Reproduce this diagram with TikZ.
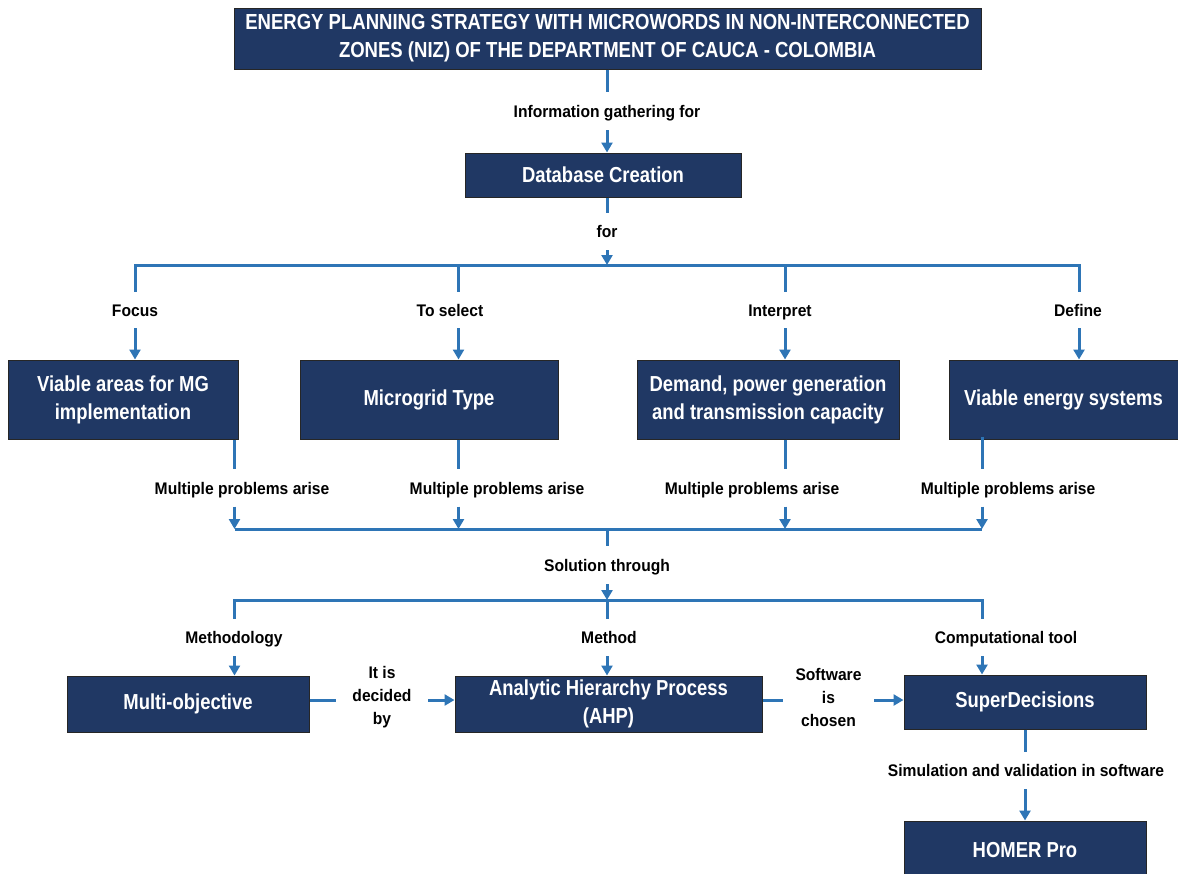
\documentclass[tikz,border=0pt]{standalone}
\usepackage{fontspec}
\setmainfont{Liberation Sans}
\newfontfamily\boxfont{Liberation Sans}[FakeStretch=0.85]
\newfontfamily\labfont{Liberation Sans}[FakeStretch=0.93]
\usetikzlibrary{arrows.meta}
\definecolor{navy}{HTML}{203864}
\definecolor{arrowblue}{HTML}{2E75B6}
\tikzset{
  box/.style={draw=black!85, line width=1pt, fill=navy, text=white,
    font=\boxfont\bfseries\fontsize{21.7}{28}\selectfont, align=center, inner sep=0pt},
  titlebox/.style={box, font=\boxfont\bfseries\fontsize{21.8}{28}\selectfont},
  lab/.style={font=\labfont\bfseries\fontsize{16.8}{23}\selectfont, align=center, inner sep=0pt, text=black},
  lab1/.style={lab, text height=14pt, text depth=2pt},
  conn/.style={draw=arrowblue, line width=3pt},
  arr/.style={conn, -{Triangle[width=11pt,length=10pt]}},
}
\begin{document}
\begin{tikzpicture}[x=1pt,y=-1pt]
\useasboundingbox (0,0) rectangle (1178,873);
% boxes
\node[titlebox, minimum width=747pt, minimum height=61pt] (title) at (607.5,38.5)
  {ENERGY PLANNING STRATEGY WITH MICROWORDS IN NON-INTERCONNECTED\\ZONES (NIZ) OF THE DEPARTMENT OF CAUCA - COLOMBIA};
\node[box, minimum width=276pt, minimum height=44pt] (db) at (603,175) {Database Creation};
\node[box, minimum width=230pt, minimum height=79pt] (va) at (123,399.5) {Viable areas for MG\\implementation};
\node[box, minimum width=258pt, minimum height=79pt] (mt) at (429,399.5) {Microgrid Type};
\node[box, minimum width=262pt, minimum height=79pt] (dem) at (768,399.5) {Demand, power generation\\and transmission capacity};
\node[box, minimum width=229pt, minimum height=79pt] (ves) at (1063.5,399.5) {Viable energy systems};
\node[box, minimum width=242pt, minimum height=56pt] (mo) at (188,704) {Multi-objective};
\node[box, minimum width=307pt, minimum height=56pt] (ahp) at (608.5,704) {Analytic Hierarchy Process\\(AHP)};
\node[box, minimum width=242pt, minimum height=54pt] (sd) at (1025,702) {SuperDecisions};
\node[box, minimum width=242pt, minimum height=58pt] (hp) at (1025,850) {HOMER Pro};
% labels
\node[lab1, minimum height=38pt] (lig) at (607,111) {Information gathering for};
\node[lab1, minimum height=37pt] (lfor) at (607,231.5) {for};
\node[lab1, minimum height=36pt] (lfoc) at (135,310) {Focus};
\node[lab1, minimum height=36pt] (lsel) at (450,310) {To select};
\node[lab1, minimum height=36pt] (lint) at (780,310) {Interpret};
\node[lab1, minimum height=36pt] (ldef) at (1078,310) {Define};
\node[lab1, minimum height=37pt] (mp1) at (242,488) {Multiple problems arise};
\node[lab1, minimum height=37pt] (mp2) at (497,488) {Multiple problems arise};
\node[lab1, minimum height=37pt] (mp3) at (752,488) {Multiple problems arise};
\node[lab1, minimum height=37pt] (mp4) at (1008,488) {Multiple problems arise};
\node[lab1, minimum height=38pt] (lsol) at (607,565) {Solution through};
\node[lab1, minimum height=37pt] (lmy) at (234,637.5) {Methodology};
\node[lab1, minimum height=37pt] (lmd) at (609,637.5) {Method};
\node[lab1, minimum height=37pt] (lct) at (1006,637.5) {Computational tool};
\node[lab, minimum width=92pt] (ldec) at (382,697) {It is\\decided\\by};
\node[lab, minimum width=91pt] (lsw) at (828.5,697) {Software\\is\\chosen};
\node[lab1, minimum height=37pt] (lsim) at (1026,770.5) {Simulation and validation in software};
% reference coordinates
\coordinate (bus1) at (607,265);
\coordinate (bus2) at (607,529);
\coordinate (bus3) at (607,600);
\coordinate (c1) at (135,0);
\coordinate (c2) at (458.5,0);
\coordinate (c3) at (785,0);
\coordinate (c4) at (1079,0);
\coordinate (d1) at (234.5,0);
\coordinate (d2) at (458.5,0);
\coordinate (d3) at (785,0);
\coordinate (d4) at (982,0);
\coordinate (hy) at (0,700);
% top
\draw[conn] (title.south -| lig) -- (lig.north);
\draw[arr] (lig.south) -- (lig.south |- db.north);
\draw[conn] (db.south -| lfor) -- (lfor.north);
\draw[arr] (lfor.south) -- (bus1);
% bus 1
\draw[conn] (c1 |- lfoc.north) -- (c1 |- bus1) -- (c4 |- bus1) -- (c4 |- ldef.north);
\draw[conn] (c2 |- bus1) -- (c2 |- lsel.north);
\draw[conn] (c3 |- bus1) -- (c3 |- lint.north);
\draw[arr] (c1 |- lfoc.south) -- (c1 |- va.north);
\draw[arr] (c2 |- lsel.south) -- (c2 |- mt.north);
\draw[arr] (c3 |- lint.south) -- (c3 |- dem.north);
\draw[arr] (c4 |- ldef.south) -- (c4 |- ves.north);
% row 2
\draw[conn] (d1 |- va.south) -- (d1 |- mp1.north);
\draw[conn] (d2 |- mt.south) -- (d2 |- mp2.north);
\draw[conn] (d3 |- dem.south) -- (d3 |- mp3.north);
\draw[conn] ([yshift=3pt]d4 |- ves.south) -- (d4 |- mp4.north);
\draw[arr] (d1 |- mp1.south) -- (d1 |- bus2);
\draw[arr] (d2 |- mp2.south) -- (d2 |- bus2);
\draw[arr] (d3 |- mp3.south) -- (d3 |- bus2);
\draw[arr] (d4 |- mp4.south) -- (d4 |- bus2);
\draw[conn] (d1 |- bus2) -- (d4 |- bus2);
\draw[conn] (bus2) -- (lsol.north);
\draw[arr] (lsol.south) -- (bus3);
% bus 3
\draw[conn] (d1 |- lmy.north) -- (d1 |- bus3) -- (d4 |- bus3) -- (d4 |- lct.north);
\draw[conn] (bus3) -- (bus3 |- lmd.north);
\draw[arr] (d1 |- lmy.south) -- (d1 |- mo.north);
\draw[arr] (bus3 |- lmd.south) -- (bus3 |- ahp.north);
\draw[arr] (d4 |- lct.south) -- (d4 |- sd.north);
% horizontal
\draw[conn] (hy -| mo.east) -- (hy -| ldec.west);
\draw[arr] (hy -| ldec.east) -- (hy -| ahp.west);
\draw[conn] (hy -| ahp.east) -- (hy -| lsw.west);
\draw[arr] (hy -| lsw.east) -- (hy -| sd.west);
% bottom
\draw[conn] (sd.south) -- (sd.south |- lsim.north);
\draw[arr] (sd.south |- lsim.south) -- (hp.north);
\end{tikzpicture}
\end{document}
